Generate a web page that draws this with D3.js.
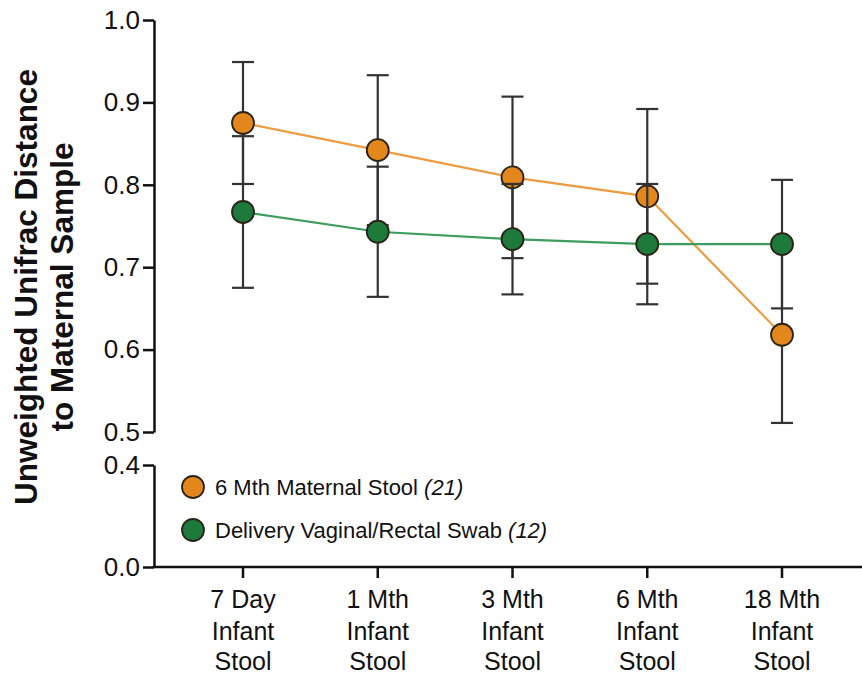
<!DOCTYPE html>
<html>
<head>
<meta charset="utf-8">
<script src="https://cdn.jsdelivr.net/npm/d3@7"></script>
<style>
  html, body { margin: 0; padding: 0; background: #fff; }
  svg { display: block; font-family: "Liberation Sans", Arial, Helvetica, sans-serif; }
</style>
</head>
<body>
<svg id="chart" width="862" height="678"></svg>
<script>
// Sampling time points (x axis, three-line labels)
const categories = ["7 Day", "1 Mth", "3 Mth", "6 Mth", "18 Mth"];
const categorySubLines = ["Infant", "Stool"];

// Mean unweighted UniFrac distance and SD for each maternal reference sample
const maternalStoolMean = [0.875, 0.842, 0.809, 0.786, 0.618];
const maternalStoolSD   = [0.074, 0.091, 0.098, 0.106, 0.107];
const swabMean = [0.767, 0.743, 0.734, 0.728, 0.728];
const swabSD   = [0.092, 0.079, 0.067, 0.073, 0.078];

// Broken y axis: upper and lower segments with their tick values
const upperTicks = [0.5, 0.6, 0.7, 0.8, 0.9, 1.0];
const lowerTicks = [0.0, 0.4];

const seriesNames = ["6 Mth Maternal Stool", "Delivery Vaginal/Rectal Swab"];
const seriesCounts = ["(21)", "(12)"];

const series = [
  { name: seriesNames[0], n: seriesCounts[0], mean: maternalStoolMean, sd: maternalStoolSD,
    fill: "#E3861B", line: "#EE9B3F" },
  { name: seriesNames[1], n: seriesCounts[1], mean: swabMean, sd: swabSD,
    fill: "#1D7A3A", line: "#3E9C5E" }
];

const svg = d3.select("#chart");
const axisX = 154;
const ink = "#111";

const x = d3.scalePoint().domain(categories).range([243, 782]);
const yUpper = d3.scaleLinear().domain([0.5, 1.0]).range([432, 20]);
const yLower = d3.scaleLinear().domain([0.0, 0.4]).range([567, 465]);

// Piecewise lookup for values on the broken axis
const y = v => v >= 0.5 ? yUpper(v) : yLower(Math.min(v, 0.4));

function styleAxis(g) {
  g.select(".domain").attr("stroke", ink).attr("stroke-width", 2.5);
  g.selectAll(".tick line").attr("stroke", ink).attr("stroke-width", 2.5);
  g.selectAll(".tick text").attr("fill", ink).style("font-size", "26px");
}

svg.append("g")
  .attr("transform", `translate(${axisX},0)`)
  .call(d3.axisLeft(yUpper).tickValues(upperTicks).tickFormat(d3.format(".1f"))
    .tickSize(11).tickSizeOuter(0).tickPadding(3))
  .call(styleAxis);

svg.append("g")
  .attr("transform", `translate(${axisX},0)`)
  .call(d3.axisLeft(yLower).tickValues(lowerTicks).tickFormat(d3.format(".1f"))
    .tickSize(11).tickSizeOuter(0).tickPadding(3))
  .call(styleAxis);

// x axis runs from the y axis to the right edge
const xAxisG = svg.append("g").attr("transform", `translate(0,${yLower(0)})`);
xAxisG.append("line")
  .attr("x1", axisX - 1.25).attr("x2", 862)
  .attr("stroke", ink).attr("stroke-width", 2.5);
const xTick = xAxisG.selectAll("g.xtick").data(categories).join("g")
  .attr("class", "xtick")
  .attr("transform", d => `translate(${x(d)},0)`);
xTick.append("line").attr("y1", 0).attr("y2", 11).attr("stroke", ink).attr("stroke-width", 2.5);
const xText = xTick.append("text")
  .attr("text-anchor", "middle")
  .attr("fill", ink)
  .style("font-size", "25px");
xText.append("tspan").attr("x", 0).attr("y", 41).text(d => d);
categorySubLines.forEach((s, i) => {
  xText.append("tspan").attr("x", 0).attr("y", 73 + i * 30).text(s);
});

// y axis title
const title = svg.append("text")
  .attr("transform", "translate(37,287) rotate(-90)")
  .attr("text-anchor", "middle")
  .attr("fill", ink)
  .style("font-size", "31.5px")
  .style("font-weight", "bold");
title.append("tspan").attr("x", 0).attr("y", 0).text("Unweighted Unifrac Distance");
title.append("tspan").attr("x", 0).attr("y", 36).text("to Maternal Sample");

const line = d3.line().x((d, i) => x(categories[i])).y(d => y(d));
const capHalf = 11;
const r = 11;

series.forEach(s => {
  const g = svg.append("g");
  const bars = g.selectAll("g.err").data(s.mean).join("g").attr("class", "err");
  bars.append("line")
    .attr("x1", (d, i) => x(categories[i])).attr("x2", (d, i) => x(categories[i]))
    .attr("y1", (d, i) => y(d + s.sd[i])).attr("y2", (d, i) => y(d - s.sd[i]))
    .attr("stroke", "#333").attr("stroke-width", 2.2);
  [1, -1].forEach(sign => {
    bars.append("line")
      .attr("x1", (d, i) => x(categories[i]) - capHalf).attr("x2", (d, i) => x(categories[i]) + capHalf)
      .attr("y1", (d, i) => y(d + sign * s.sd[i])).attr("y2", (d, i) => y(d + sign * s.sd[i]))
      .attr("stroke", "#333").attr("stroke-width", 2.2);
  });
  g.append("path").datum(s.mean)
    .attr("d", line).attr("fill", "none")
    .attr("stroke", s.line).attr("stroke-width", 2.2);
  g.selectAll("circle").data(s.mean).join("circle")
    .attr("cx", (d, i) => x(categories[i])).attr("cy", d => y(d))
    .attr("r", r).attr("fill", s.fill)
    .attr("stroke", "#2a2418").attr("stroke-width", 1.8);
});

// Legend
const legend = svg.append("g");
series.forEach((s, i) => {
  const row = legend.append("g").attr("transform", `translate(193,${487 + i * 43})`);
  row.append("circle").attr("r", r).attr("fill", s.fill)
    .attr("stroke", "#2a2418").attr("stroke-width", 1.8);
  const t = row.append("text").attr("x", 22).attr("y", 8)
    .attr("fill", ink).style("font-size", "22px");
  t.append("tspan").text(s.name + " ");
  t.append("tspan").style("font-style", "italic").text(s.n);
});
</script>
</body>
</html>
